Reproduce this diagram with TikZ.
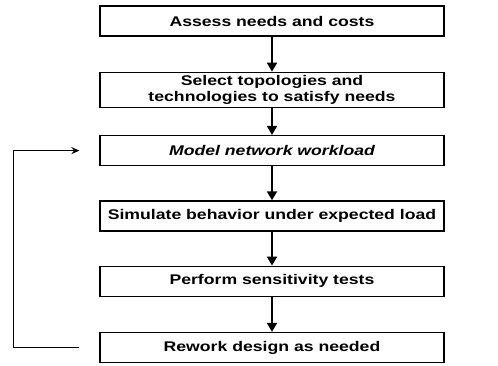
\documentclass[tikz,border=0pt]{standalone}
\usepackage{fontspec}
\setmainfont{Liberation Sans}[FakeStretch=1.26]
\usetikzlibrary{positioning,arrows.meta}

\begin{document}
\begin{tikzpicture}[
    font=\fontsize{14}{16}\selectfont\bfseries,
    node distance=34pt,
    every node/.style={align=center},
    box/.style={rectangle, draw, line width=1.3pt,
                minimum height=30pt, minimum width=344pt,
                inner sep=2pt},
    flow/.style={-{Triangle[width=10pt,length=9pt]}, line width=2pt},
    backflow/.style={-{Stealth[width=7pt,length=8pt]}, line width=1.5pt}
  ]
  \useasboundingbox (0pt,0pt) rectangle (498pt,-365pt);

  % Design steps, top to bottom.
  \node[box] (assess) at (272pt,-21pt) {Assess needs and costs};
  \node[box, minimum height=35pt, below=35pt of assess] (select)
    {Select topologies and\\technologies to satisfy needs};
  \node[box, below=27pt of select] (model) {\itshape Model network workload};
  \node[box, below=of model]  (simulate) {Simulate behavior under expected load};
  \node[box, below=of simulate] (perform) {Perform sensitivity tests};
  \node[box, below=35pt of perform]  (rework) {Rework design as needed};

  % Main flow.
  \draw[flow] (assess) -- (select);
  \draw[flow] (select) -- (model);
  \draw[flow] (model) -- (simulate);
  \draw[flow] (simulate) -- (perform);
  \draw[flow] (perform) -- (rework);

  % Feedback loop back to the model.
  \draw[backflow, shorten <=20pt, shorten >=20pt]
    (rework.west) -- ++(-86pt,0) |- (model.west);

\end{tikzpicture}
\end{document}
